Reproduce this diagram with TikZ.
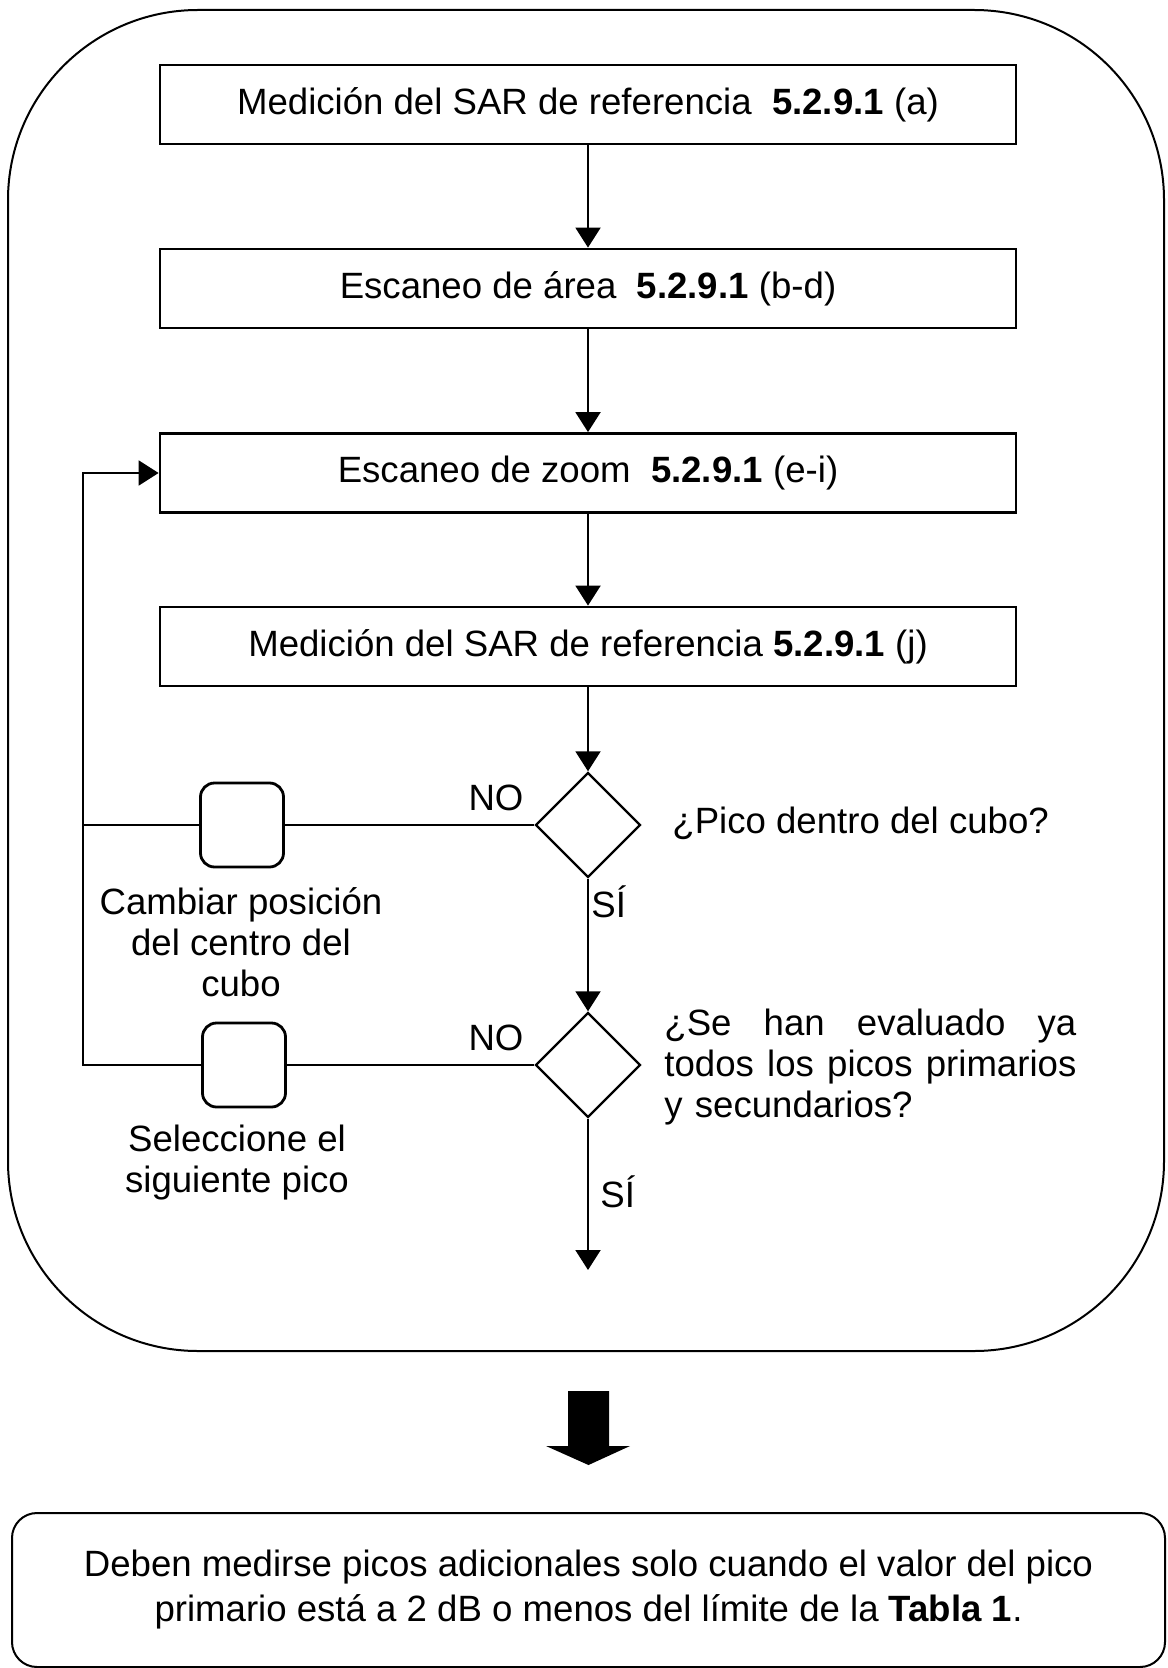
\documentclass[tikz,border=0pt]{standalone}
\usepackage{fontspec}
\setmainfont{Liberation Sans}
\usetikzlibrary{shapes.geometric,arrows.meta,positioning}
\tikzset{
  stage/.style={
    draw,
    line width=1.4pt,
    minimum width=428pt,
    minimum height=39.5pt,
    inner sep=0pt
  },
  query/.style={
    draw,
    shape=diamond,
    line width=1.2pt,
    minimum width=52.5pt,
    minimum height=52.5pt,
    inner sep=0pt
  },
  detour/.style={
    draw,
    rounded corners=7pt,
    line width=1.4pt,
    minimum width=41.5pt,
    minimum height=42pt,
    inner sep=0pt
  },
  flow/.style={
    line width=1pt,
    -{Triangle[length=10pt,width=12.5pt]}
  },
  link/.style={
    line width=1pt
  },
  every node/.style={
    font=\fontsize{18.3}{20.6}\selectfont
  },
  side/.style={
    align=center,
    inner sep=0pt
  }
}
\begin{document}
\begin{tikzpicture}[x=0.5pt,y=-0.5pt]
\useasboundingbox (0,0) rectangle (1167,1668);
% frame round the loop
\draw[line width=1pt,rounded corners=95pt] (8,10) rectangle (1164,1351);
\node[stage] (ref1) at (588,104.5) {Medición del SAR de referencia~~\textbf{5.2.9.1} (a)};
\node[stage] (area) at (588,288.5) {Escaneo de área~~\textbf{5.2.9.1} (b-d)};
\node[stage] (zoom) at (588,473) {Escaneo de zoom~~\textbf{5.2.9.1} (e-i)};
\node[stage] (ref2) at (588,646.5) {Medición del SAR de referencia \textbf{5.2.9.1} (j)};
\node[query] (incube) at (588,825) {};
\node[query] (alldone) at (588,1065) {};
\node[detour] (move) at (242,825) {};
\node[detour] (next) at (244,1065) {};
\coordinate (loopA) at (83,825);
\coordinate (loopB) at (83,1065);
\coordinate (stop) at (588,1270);
% main chain
\draw[flow] (ref1) -- (area);
\draw[flow] (area) -- (zoom);
\draw[flow] (zoom) -- (ref2);
\draw[flow] (ref2) -- (incube);
\draw[flow] (incube) -- (alldone);
\draw[flow] (alldone) -- (stop);
% loop back
\draw[link] (incube.west) -- (move.east) (move.west) -- (loopA);
\draw[link] (alldone.west) -- (next.east);
\draw[flow] (next.west) -- (loopB) -- (loopB |- zoom.west) -- (zoom.west);
% labels
\node (no1) at (496,798) {NO};
\node (no2) at (496,1038) {NO};
\node[anchor=west,inner sep=0pt] (yes1) at (591,902) {SÍ};
\node[anchor=west,inner sep=0pt] (yes2) at (600,1192) {SÍ};
\node[anchor=west,inner sep=0pt] (q1) at (672,823) {¿Pico dentro del cubo?};
\node[anchor=west,inner sep=0pt,text width=206pt,align=left] (q2) at (664,1067)
  {\makebox[206pt][s]{¿Se\hfill han\hfill evaluado\hfill ya}\\
   \makebox[206pt][s]{todos\hfill los\hfill picos\hfill primarios}\\
   y secundarios?};
\node[side] (movetxt) at (241,942) {Cambiar posición\\del centro del\\cubo};
\node[side] (nexttxt) at (237,1162.5) {Seleccione el\\siguiente pico};
% result
\fill (568,1391) -- (609,1391) -- (609,1446) -- (630,1446) -- (588.5,1465)
  -- (546,1446) -- (568,1446) -- cycle;
\node[draw,line width=1pt,rounded corners=12.5pt,minimum width=576.5pt,
  minimum height=77pt,inner sep=0pt,align=center,
  font=\fontsize{18.3}{22.5}\selectfont] (note) at (588.5,1590)
  {Deben medirse picos adicionales solo cuando el valor del pico\\
   primario está a 2 dB o menos del límite de la \textbf{Tabla 1}.};
\end{tikzpicture}
\end{document}
